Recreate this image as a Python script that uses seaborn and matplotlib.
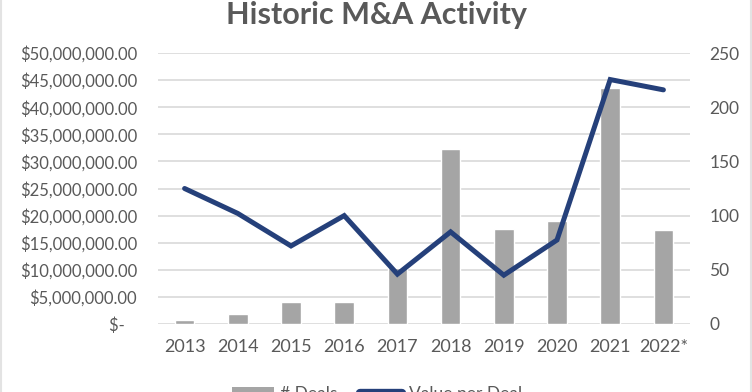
import matplotlib
matplotlib.use("Agg")
import matplotlib.pyplot as plt
from matplotlib.lines import Line2D
from matplotlib.patches import Patch
from matplotlib.ticker import FuncFormatter
import seaborn as sns
import numpy as np

years = ["2013", "2014", "2015", "2016", "2017", "2018", "2019", "2020", "2021", "2022*"]
deals = [4, 9, 20, 20, 52, 161, 88, 95, 218, 87]
value_per_deal = [25.0e6, 20.4e6, 14.4e6, 20.0e6, 9.2e6, 17.0e6, 9.0e6, 15.5e6, 45.1e6, 43.2e6]
left_ticks = np.arange(0, 50_000_001, 5_000_000)
right_ticks = np.arange(0, 251, 50)

sns.set_theme(style="white")
plt.rcParams["font.family"] = ["Lato", "DejaVu Sans"]

TXT = "#595959"
BAR = "#A5A5A5"
LINE = "#25407A"
GRID = "#D9D9D9"

fig = plt.figure(figsize=(7.52, 3.92), dpi=100)
ax = fig.add_axes([158 / 752, (392 - 324) / 392, (690 - 158) / 752, (324 - 53) / 392])

# bars on primary axes (right scale)
sns.barplot(x=years, y=deals, ax=ax, color=BAR, width=0.37, saturation=1, zorder=2)
ax.set_ylim(0, 250)
grid_vals = np.arange(0, 251, 25)
ax.set_yticks(grid_vals)
ax.set_yticklabels([str(int(v)) if v in right_ticks else "" for v in grid_vals])
ax.yaxis.grid(True, color=GRID, linewidth=1.2, zorder=0)
ax.set_axisbelow(True)
for s in ax.spines.values():
    s.set_visible(False)
ax.set_xlabel("")
ax.set_ylabel("")

# line on twin axes (left scale)
ax2 = ax.twinx()
sns.pointplot(x=years, y=value_per_deal, ax=ax2, color=LINE, markers="", linewidth=3.6)
for ln in ax2.lines:
    ln.set_solid_joinstyle("miter")
    ln.set_solid_capstyle("round")
ax2.set_ylim(0, 50_000_000)
ax2.set_yticks(left_ticks)
ax2.yaxis.set_major_formatter(FuncFormatter(lambda v, p: "$-   " if v == 0 else f"${v:,.2f}"))
ax2.yaxis.tick_left()
ax.yaxis.tick_right()
ax2.tick_params(axis="y", length=0, pad=15, labelsize=12, labelcolor=TXT)
ax.tick_params(axis="y", length=0, pad=14, labelsize=12.5, labelcolor=TXT)
ax.tick_params(axis="x", length=0, pad=11, labelsize=13, labelcolor=TXT)
ax2.set_xlim(-0.5, len(years) - 0.5)
ax.set_xlim(-0.5, len(years) - 0.5)
for s in ax2.spines.values():
    s.set_visible(False)
ax2.grid(False)
ax2.set_ylabel("")
ax2.set_xlabel("")

fig.text(376 / 752, (392 - 24) / 392, "Historic M&A Activity", ha="center", va="baseline",
         fontsize=22, fontweight="bold", color=TXT)

handles = [Patch(facecolor=BAR, edgecolor="none"),
           Line2D([0], [0], color=LINE, linewidth=6, solid_capstyle="round")]
fig.legend(handles, ["# Deals", "Value per Deal"], loc="center",
           bbox_to_anchor=(377 / 752, (392 - 394) / 392), ncol=2, frameon=False,
           fontsize=12.5, labelcolor=TXT, handlelength=2.4, columnspacing=1.3, handletextpad=0.4)

# faint chart-area border on left and right edges
for xe in (1.5 / 752, 750.5 / 752):
    fig.add_artist(Line2D([xe, xe], [0, 1], transform=fig.transFigure, color="#E3E3E3", linewidth=1.5))

fig.savefig("out.png", dpi=100)
